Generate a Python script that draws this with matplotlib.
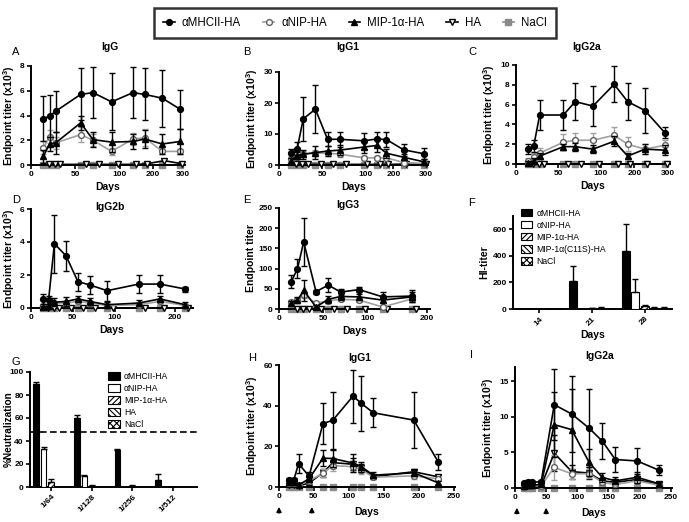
import numpy as np
import matplotlib
matplotlib.use('Agg')
import matplotlib.pyplot as plt
from matplotlib.lines import Line2D
from matplotlib.patches import Patch

plt.rcParams['font.family'] = ['Liberation Sans', 'DejaVu Sans']
plt.rcParams['font.weight'] = 'bold'
plt.rcParams['mathtext.fontset'] = 'custom'
plt.rcParams['mathtext.bf'] = 'Liberation Sans:bold'
plt.rcParams['mathtext.rm'] = 'Liberation Sans:bold'
plt.rcParams['hatch.linewidth'] = 0.8

# ---------------- data ----------------
# A: IgG (x10^3)
a_days = [14, 21, 28, 56, 70, 91, 140, 175, 230, 290]
a_ha_days = [20, 27, 33, 62, 77, 98, 150, 182, 236, 296]
a_mhc = [3.75, 3.95, 4.35, 5.7, 5.85, 5.1, 5.85, 5.7, 5.4, 4.5]
a_mhc_err = [1.8, 1.7, 1.65, 2.1, 2.05, 2.3, 2.05, 2.1, 2.3, 1.6]
a_nip = [1.4, 2.3, 1.8, 2.45, 2.0, 1.1, 2.1, 2.2, 1.1, 1.1]
a_nip_err = [0.5, 0.5, 0.5, 0.6, 0.5, 0.3, 0.5, 0.7, 0.2, 0.2]
a_mip = [0.7, 1.7, 1.8, 3.4, 2.05, 1.85, 1.9, 2.1, 1.7, 1.9]
a_mip_err = [0.5, 0.6, 0.9, 0.6, 0.6, 0.8, 0.6, 0.7, 0.8, 1.0]
a_ha = [0.05, 0.05, 0.05, 0.05, 0.05, 0.05, 0.05, 0.1, 0.35, 0.1]
a_nacl = [0, 0, 0, 0, 0, 0, 0, 0, 0, 0]

# B: IgG1 (x10^3)
b_days = [14, 21, 28, 42, 56, 70, 98, 140, 175, 231, 294]
b_ha_days = [20, 27, 34, 48, 62, 77, 104, 150, 182, 238, 298]
b_mhc = [3.8, 5.3, 14.9, 18.0, 8.3, 8.3, 7.8, 8.4, 8.2, 4.9, 3.6]
b_mhc_err = [1.5, 2.0, 7.1, 7.7, 2.2, 2.5, 2.6, 2.4, 2.4, 2.0, 1.8]
b_nip = [2.0, 2.6, 3.5, 3.8, 3.8, 3.5, 2.3, 2.3, 2.3, 0.8, 0.5]
b_nip_err = [0.8, 0.8, 1.0, 1.0, 1.0, 1.0, 0.6, 0.6, 0.6, 0.4, 0.3]
b_mip = [1.2, 3.0, 3.5, 4.0, 4.5, 4.8, 5.8, 6.3, 3.8, 2.5, 1.0]
b_mip_err = [1.0, 1.2, 1.5, 2.0, 1.5, 1.5, 2.0, 2.0, 1.5, 1.0, 0.8]
b_ha = [0.2, 0.2, 0.2, 0.2, 0.2, 0.2, 0.2, 0.2, 0.2, 0.3, 0.2]
b_nacl = [0, 0, 0, 0, 0, 0, 0, 0, 0, 0, 0]

# C: IgG2a (x10^3)
c_days = [14, 21, 28, 56, 70, 91, 140, 180, 231, 290]
c_ha_days = [20, 27, 33, 62, 77, 98, 150, 186, 238, 296]
c_mhc = [1.5, 1.85, 4.95, 4.95, 6.3, 5.85, 8.05, 6.3, 5.4, 3.15]
c_mhc_err = [0.5, 0.6, 1.5, 1.5, 1.9, 2.0, 1.8, 1.9, 2.3, 0.55]
c_nip = [0.3, 0.7, 1.1, 2.2, 2.4, 2.4, 2.9, 2.0, 1.5, 1.9]
c_nip_err = [0.3, 0.4, 0.5, 0.8, 0.7, 0.7, 0.8, 0.7, 0.5, 0.5]
c_mip = [0.1, 0.3, 0.8, 1.75, 1.75, 1.5, 2.3, 0.8, 1.5, 1.4]
c_mip_err = [0.2, 0.3, 0.3, 0.3, 0.4, 0.4, 0.5, 0.3, 0.5, 0.5]
c_ha = [0.05, 0.05, 0.05, 0.05, 0.05, 0.05, 0.05, 0.05, 0.05, 0.05]
c_nacl = [0, 0, 0, 0, 0, 0, 0, 0, 0, 0]

# D: IgG2b (x10^3)
d_days = [14, 21, 28, 42, 56, 70, 91, 140, 175, 217]
d_ha_days = [20, 27, 34, 48, 62, 77, 98, 150, 182, 222]
d_mhc = [0.55, 0.5, 3.9, 3.15, 1.6, 1.4, 1.05, 1.45, 1.45, 1.15]
d_mhc_err = [0.3, 0.25, 1.75, 0.9, 0.55, 0.55, 0.6, 0.55, 0.55, 0.15]
d_nip = [0.1, 0.15, 0.3, 0.3, 0.4, 0.3, 0.15, 0.2, 0.4, 0.15]
d_nip_err = [0.1, 0.1, 0.15, 0.15, 0.15, 0.15, 0.1, 0.1, 0.15, 0.1]
d_mip = [0.05, 0.1, 0.35, 0.4, 0.55, 0.4, 0.2, 0.3, 0.55, 0.2]
d_mip_err = [0.1, 0.15, 0.25, 0.25, 0.2, 0.2, 0.15, 0.2, 0.2, 0.15]
d_ha = [0.02, 0.02, 0.02, 0.02, 0.02, 0.02, 0.02, 0.02, 0.02, 0.02]
d_nacl = [0, 0, 0, 0, 0, 0, 0, 0, 0, 0]

# E: IgG3
e_days = [14, 21, 28, 42, 56, 70, 91, 126, 175]
e_ha_days = [20, 27, 34, 48, 62, 77, 98, 134, 182]
e_mhc = [68, 100, 166, 43, 59, 42, 48, 30, 32]
e_mhc_err = [15, 23, 60, 5, 18, 8, 6, 12, 15]
e_nip = [18, 22, 35, 14, 20, 24, 22, 5, 25]
e_nip_err = [5, 5, 8, 4, 5, 5, 5, 3, 6]
e_mip = [15, 22, 46, 5, 24, 31, 30, 22, 30]
e_mip_err = [6, 8, 25, 4, 8, 8, 8, 8, 12]
e_ha = [1, 1, 1, 1, 1, 1, 1, 1, 1]
e_nacl = [0, 0, 0, 0, 0, 0, 0, 0, 0]

# F: HI-titer
f_days = ['14', '21', '28']
f_mhc = [0, 210, 435]
f_mhc_err = [0, 110, 205]
f_nip = [0, 0, 125]
f_nip_err = [0, 0, 100]
f_mip = [0, 5, 20]
f_mip_err = [0, 0, 10]
f_c11s = [0, 10, 10]
f_c11s_err = [0, 8, 5]
f_nacl = [0, 0, 10]
f_nacl_err = [0, 0, 3]

# G: % neutralization
g_dil = ['1/64', '1/128', '1/256', '1/512']
g_mhc = [90, 60, 32, 6]
g_mhc_err = [1, 2.5, 1, 5]
g_nip = [33, 10, 0, 0]
g_nip_err = [2, 0.5, 0, 0]
g_mip = [4, 1, 1, 0]
g_mip_err = [3, 1, 0.5, 0]
g_ha = [0, 0, 0, 0]
g_nacl = [0, 0, 0, 0]
g_threshold = 48

# H: IgG1 (x10^3), boost design
h_days = [14, 21, 28, 43, 63, 77, 106, 118, 135, 193, 228]
h_mhc = [3.3, 3.3, 11.5, 5.3, 31.2, 32.8, 44.7, 41.1, 36.5, 32.9, 12.3]
h_mhc_err = [1.3, 1.3, 4.6, 2.1, 10.2, 14.0, 13.0, 13.5, 7.2, 13.8, 4.1]
h_nip = [2.0, 2.0, 1.0, 3.0, 6.8, 10.5, 10.0, 8.5, 4.8, 5.5, 4.0]
h_nip_err = [0.8, 0.8, 0.5, 1.0, 2.0, 2.5, 2.5, 2.0, 1.0, 1.5, 1.0]
h_mip = [2.5, 2.5, 1.0, 4.0, 14.2, 14.0, 11.8, 10.0, 5.8, 7.0, 2.0]
h_mip_err = [1.0, 1.0, 0.8, 1.5, 4.0, 4.0, 4.5, 2.5, 1.5, 1.5, 1.0]
h_ha = [1.0, 1.0, 0.5, 2.0, 7.0, 12.0, 11.2, 9.5, 5.0, 7.5, 5.0]
h_ha_err = [0.5, 0.5, 0.3, 0.8, 2.0, 2.5, 3.0, 2.0, 1.0, 1.5, 1.0]
h_nacl = [0, 0, 0, 0, 0, 0, 0, 0, 0, 0, 0]
h_arrows = [0, 47]

# I: IgG2a (x10^3), boost design
i_days = [14, 21, 28, 42, 63, 91, 119, 140, 161, 196, 231]
i_mhc = [0.7, 0.9, 0.8, 0.9, 11.7, 10.4, 8.4, 6.6, 4.0, 3.8, 2.5]
i_mhc_err = [0.2, 0.2, 0.2, 0.2, 5.0, 5.3, 5.5, 2.5, 1.8, 1.8, 0.7]
i_nip = [0.2, 0.3, 0.3, 0.3, 2.9, 2.0, 2.0, 0.8, 0.5, 1.0, 0.4]
i_nip_err = [0.1, 0.1, 0.1, 0.1, 1.8, 0.7, 0.6, 0.3, 0.2, 0.4, 0.2]
i_mip = [0.3, 0.4, 0.4, 0.5, 8.9, 8.2, 3.6, 1.5, 1.0, 1.5, 0.6]
i_mip_err = [0.2, 0.2, 0.2, 0.2, 4.6, 5.7, 1.9, 0.6, 0.5, 0.8, 0.3]
i_ha = [0.2, 0.3, 0.3, 0.3, 4.9, 2.3, 2.1, 1.0, 0.8, 1.2, 0.5]
i_ha_err = [0.1, 0.1, 0.1, 0.1, 2.5, 1.0, 0.8, 0.4, 0.3, 0.5, 0.2]
i_nacl = [0, 0, 0, 0, 0, 0, 0, 0, 0, 0, 0]
i_arrows = [3, 50]

labels5 = ['\u03b1MHCII-HA', '\u03b1NIP-HA', 'MIP-1\u03b1-HA', 'HA', 'NaCl']

# ---------------- drawing ----------------
W, H = 689, 522
fig = plt.figure(figsize=(W / 100, H / 100), dpi=100)


def add_ax(l, r, t, b):
    return fig.add_axes([l / W, 1 - b / H, (r - l) / W, (b - t) / H])


def style(ax):
    for s in ['top', 'right']:
        ax.spines[s].set_visible(False)
    for s in ['left', 'bottom']:
        ax.spines[s].set_linewidth(1.4)
    ax.tick_params(width=1.2, length=3, labelsize=6, pad=1.5)


def piecewise(ax, knots, units):
    k = np.array(knots, float)
    u = np.array(units, float)
    ax.set_xscale('function', functions=(lambda x: np.interp(x, k, u),
                                         lambda y: np.interp(y, u, k)))


STY = {
    'mhc': dict(color='black', marker='o', mfc='black', mec='black', ecolor='black', z=6),
    'nip': dict(color='#a0a0a0', marker='o', mfc='white', mec='#606060', ecolor='#a0a0a0', z=4),
    'mip': dict(color='black', marker='^', mfc='black', mec='black', ecolor='black', z=5),
    'ha': dict(color='black', marker='v', mfc='white', mec='black', ecolor='black', z=3),
    'nacl': dict(color='#8a8a8a', marker='s', mfc='#8a8a8a', mec='#8a8a8a', ecolor='#8a8a8a', z=2),
}


def series(ax, x, y, err, key, ms=4.2):
    s = STY[key]
    ax.errorbar(x, y, yerr=err, color=s['color'], marker=s['marker'], mfc=s['mfc'],
                mec=s['mec'], ecolor=s['ecolor'], ms=ms, lw=1.2, elinewidth=1.0,
                capsize=2.5, capthick=1.0, zorder=s['z'], clip_on=False, mew=1.0)


def ylab(ax, txt, size=7.5, pad=2):
    ax.set_ylabel(txt, fontsize=size, fontweight='bold', labelpad=pad)


def xlab(ax):
    ax.set_xlabel('Days', fontsize=7.5, fontweight='bold', labelpad=3)


YL = 'Endpoint titer (x10$^{\\mathbf{3}}$)'

# A
axA = add_ax(31, 185, 66, 165)
piecewise(axA, [-1000, 0, 100, 200, 300, 1400], [-1000, 0, 100, 138, 172, 590])
series(axA, a_days, a_nacl, None, 'nacl')
series(axA, a_ha_days, a_ha, None, 'ha')
series(axA, a_days, a_nip, a_nip_err, 'nip')
series(axA, a_days, a_mip, a_mip_err, 'mip')
series(axA, a_days, a_mhc, a_mhc_err, 'mhc')
axA.set_xlim(0, 305); axA.set_ylim(0, 8)
axA.set_xticks([0, 50, 100, 200, 300]); axA.set_yticks([0, 2, 4, 6, 8])
style(axA); ylab(axA, YL); xlab(axA)

# B
axB = add_ax(279, 428, 72, 165)
piecewise(axB, [-1000, 0, 100, 200, 300, 1400], [-1000, 0, 100, 132, 170, 590])
series(axB, b_days, b_nacl, None, 'nacl')
series(axB, b_ha_days, b_ha, None, 'ha')
series(axB, b_days, b_nip, b_nip_err, 'nip')
series(axB, b_days, b_mip, b_mip_err, 'mip')
series(axB, b_days, b_mhc, b_mhc_err, 'mhc')
axB.set_xlim(0, 305); axB.set_ylim(0, 30)
axB.set_xticks([0, 50, 100, 200, 300]); axB.set_yticks([0, 10, 20, 30])
style(axB); ylab(axB, YL); xlab(axB)

# C
axC = add_ax(516, 670, 65, 164)
piecewise(axC, [-1000, 0, 100, 200, 300, 1400], [-1000, 0, 100, 140, 180, 620])
series(axC, c_days, c_nacl, None, 'nacl')
series(axC, c_ha_days, c_ha, None, 'ha')
series(axC, c_days, c_nip, c_nip_err, 'nip')
series(axC, c_days, c_mip, c_mip_err, 'mip')
series(axC, c_days, c_mhc, c_mhc_err, 'mhc')
axC.set_xlim(0, 305); axC.set_ylim(0, 10)
axC.set_xticks([0, 50, 100, 200, 300]); axC.set_yticks([0, 2, 4, 6, 8, 10])
style(axC); ylab(axC, YL); xlab(axC)

# D
axD = add_ax(31, 193, 209, 308)
piecewise(axD, [-1000, 0, 100, 200, 1200], [-1000, 0, 100, 172, 890])
series(axD, d_days, d_nacl, None, 'nacl')
series(axD, d_ha_days, d_ha, None, 'ha')
series(axD, d_days, d_nip, d_nip_err, 'nip')
series(axD, d_days, d_mip, d_mip_err, 'mip')
series(axD, d_days, d_mhc, d_mhc_err, 'mhc')
axD.set_xlim(0, 230); axD.set_ylim(0, 6)
axD.set_xticks([0, 50, 100, 200]); axD.set_yticks([0, 2, 4, 6])
style(axD); ylab(axD, YL); xlab(axD)

# E
axE = add_ax(279, 430, 208, 309)
piecewise(axE, [-1000, 0, 100, 200, 1200], [-1000, 0, 100, 168, 850])
series(axE, e_days, e_nacl, None, 'nacl')
series(axE, e_ha_days, e_ha, None, 'ha')
series(axE, e_days, e_nip, e_nip_err, 'nip')
series(axE, e_days, e_mip, e_mip_err, 'mip')
series(axE, e_days, e_mhc, e_mhc_err, 'mhc')
axE.set_xlim(0, 205); axE.set_ylim(0, 250)
axE.set_xticks([0, 50, 100, 200]); axE.set_yticks([0, 50, 100, 150, 200, 250])
style(axE); ylab(axE, 'Endpoint titer'); xlab(axE)

# bar helpers
BAR_STY = [dict(fc='black', hatch=None), dict(fc='white', hatch=None),
           dict(fc='white', hatch='//////'), dict(fc='white', hatch='\\\\\\\\\\\\'),
           dict(fc='white', hatch='xxxxx')]


def bars(ax, vals_list, errs_list, step, width):
    n = len(vals_list[0])
    xc = np.arange(n)
    for i, (v, e) in enumerate(zip(vals_list, errs_list)):
        xs = xc + (i - 2) * step
        st = BAR_STY[i]
        ax.bar(xs, v, width=width, color=st['fc'], edgecolor='black', hatch=st['hatch'],
               linewidth=0.8, zorder=3)
        if e is not None:
            ax.errorbar(xs, v, yerr=[[0] * n, e], fmt='none', ecolor='black',
                        elinewidth=1.0, capsize=2.2, capthick=1.0, zorder=4)


def bar_legend(ax, labels, x, y):
    handles = [Patch(facecolor=st['fc'], edgecolor='black', hatch=st['hatch'], linewidth=0.8)
               for st in BAR_STY[:len(labels)]]
    ax.legend(handles, labels, loc='upper left', bbox_to_anchor=(x, y), frameon=False,
              prop={'size': 6.2, 'weight': 'normal'}, handlelength=1.3, handleheight=1.0,
              labelspacing=0.35, handletextpad=0.5, borderaxespad=0, borderpad=0)


# F
axF = add_ax(513, 672, 216, 309)
bars(axF, [f_mhc, f_nip, f_mip, f_c11s, f_nacl],
     [f_mhc_err, f_nip_err, f_mip_err, f_c11s_err, f_nacl_err], 0.18, 0.15)
axF.set_xlim(-0.5, 2.52); axF.set_ylim(0, 700)
axF.set_xticks(range(len(f_days))); axF.set_xticklabels(f_days)
axF.set_yticks([0, 200, 400, 600])
style(axF)
for lab in axF.get_xticklabels():
    lab.set_rotation(45); lab.set_ha('right'); lab.set_rotation_mode('anchor')
ylab(axF, 'HI-titer')
axF.set_xlabel('Days', fontsize=7.5, fontweight='bold', labelpad=2)
bar_legend(axF, ['\u03b1MHCII-HA', '\u03b1NIP-HA', 'MIP-1\u03b1-HA', 'MIP-1\u03b1(C11S)-HA', 'NaCl'],
           0.05, 1.08)

# G
axG = add_ax(30, 197, 372, 487)
bars(axG, [g_mhc, g_nip, g_mip, g_ha, g_nacl],
     [g_mhc_err, g_nip_err, g_mip_err, None, None], 0.184, 0.135)
axG.axhline(g_threshold, ls=(0, (4, 2)), color='black', lw=1.2, zorder=2)
axG.set_xlim(-0.52, 3.59); axG.set_ylim(0, 100)
axG.set_xticks(range(len(g_dil))); axG.set_xticklabels(g_dil)
axG.set_yticks([0, 20, 40, 60, 80, 100])
style(axG)
for lab in axG.get_xticklabels():
    lab.set_rotation(45); lab.set_ha('right'); lab.set_rotation_mode('anchor')
ylab(axG, '%Neutralization', size=7.3)
axG.yaxis.set_label_coords(-0.095, 0.5)
bar_legend(axG, labels5, 0.47, 1.0)

# H
axH = add_ax(279, 455, 365, 487)
series(axH, h_days, h_nacl, None, 'nacl')
series(axH, h_days, h_ha, h_ha_err, 'ha')
series(axH, h_days, h_nip, h_nip_err, 'nip')
series(axH, h_days, h_mip, h_mip_err, 'mip')
series(axH, h_days, h_mhc, h_mhc_err, 'mhc')
axH.set_xlim(0, 252); axH.set_ylim(0, 60)
axH.set_xticks([0, 50, 100, 150, 200, 250]); axH.set_yticks([0, 20, 40, 60])
style(axH); ylab(axH, YL)
axH.set_xlabel('Days', fontsize=7.5, fontweight='bold', labelpad=5)

# I
axI = add_ax(515, 672, 367, 488)
series(axI, i_days, i_nacl, None, 'nacl')
series(axI, i_days, i_ha, i_ha_err, 'ha')
series(axI, i_days, i_nip, i_nip_err, 'nip')
series(axI, i_days, i_mip, i_mip_err, 'mip')
series(axI, i_days, i_mhc, i_mhc_err, 'mhc')
axI.set_xlim(0, 252); axI.set_ylim(0, 17)
axI.set_xticks([0, 50, 100, 150, 200, 250]); axI.set_yticks([0, 5, 10, 15])
style(axI); ylab(axI, YL)
axI.set_xlabel('Days', fontsize=7.5, fontweight='bold', labelpad=5)

for ax, arr in [(axH, h_arrows), (axI, i_arrows)]:
    for d in arr:
        ax.annotate('', xy=(d, -0.14), xytext=(d, -0.235),
                    xycoords=('data', 'axes fraction'), textcoords=('data', 'axes fraction'),
                    arrowprops=dict(arrowstyle='-|>', color='black', lw=1.1, mutation_scale=7),
                    annotation_clip=False)

# titles and panel letters
for txt, x, y in [('IgG', 110, 47), ('IgG1', 348, 47), ('IgG2a', 587, 47),
                  ('IgG2b', 110, 207), ('IgG3', 348, 205), ('IgG1', 360, 358),
                  ('IgG2a', 600, 356)]:
    fig.text(x / W, 1 - y / H, txt, fontsize=7.5, fontweight='bold', ha='center', va='center')

for txt, x, y in [('A', 12, 52), ('B', 243, 52), ('C', 468, 52), ('D', 12, 200),
                  ('E', 243, 200), ('F', 468, 203), ('G', 12, 362), ('H', 248, 358),
                  ('I', 470, 355)]:
    fig.text(x / W, 1 - y / H, txt, fontsize=8, fontweight='normal', ha='left', va='center')

# top legend
handles = []
for key in ['mhc', 'nip', 'mip', 'ha', 'nacl']:
    s = STY[key]
    handles.append(Line2D([0], [0], color=s['color'], marker=s['marker'], mfc=s['mfc'],
                          mec=s['mec'], ms=4.2, lw=1.2))
leg = fig.legend(handles, labels5, loc='upper center', bbox_to_anchor=(355 / W, 1 - 2 / H),
                 ncol=5, frameon=True, fancybox=False, edgecolor='black',
                 prop={'size': 8.3, 'weight': 'normal'}, handlelength=1.0,
                 columnspacing=1.9, borderpad=0.8, handletextpad=0.6)
leg.get_frame().set_linewidth(1.8)

fig.savefig('out.png', dpi=100)
